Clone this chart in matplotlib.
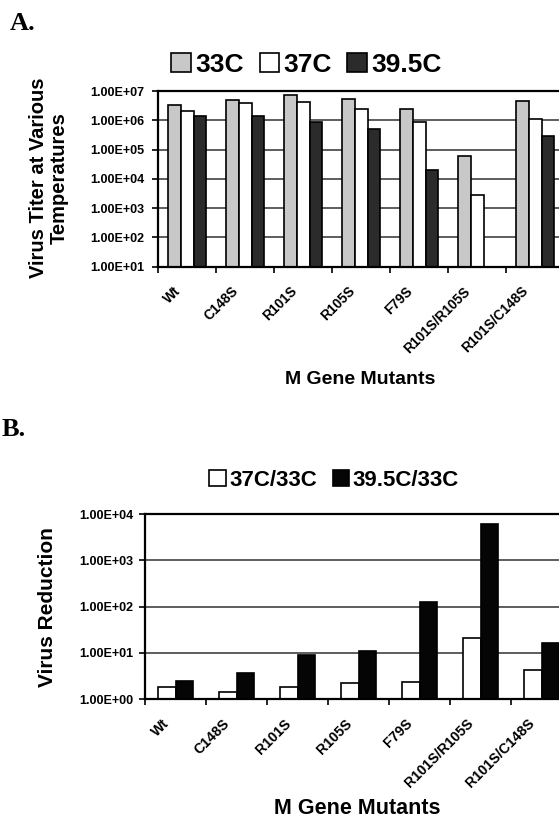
import numpy as np
import matplotlib
matplotlib.use('Agg')
import matplotlib.pyplot as plt
from matplotlib.patches import Patch
from matplotlib.ticker import FuncFormatter, FixedLocator, NullLocator
from matplotlib.transforms import ScaledTranslation

plt.rcParams['font.family'] = ['Liberation Sans', 'DejaVu Sans']
plt.rcParams['font.weight'] = 'bold'

# datos
mutantes = ['Wt', 'C148S', 'R101S', 'R105S', 'F79S', 'R101S/R105S', 'R101S/C148S']
titulo_33 = [3.3e6, 4.9e6, 7.2e6, 5.4e6, 2.4e6, 6.0e4, 4.7e6]
titulo_37 = [2.0e6, 3.8e6, 4.1e6, 2.4e6, 8.9e5, 2.9e3, 1.1e6]
titulo_395 = [1.4e6, 1.4e6, 8.9e5, 5.0e5, 2.0e4, 1.0e1, 2.9e5]
red_37 = [1.79, 1.44, 1.8, 2.2, 2.35, 20.5, 4.2]
red_395 = [2.45, 3.6, 8.8, 10.9, 126, 6100, 16]

W, H = 559, 819
fig = plt.figure(figsize=(W/100, H/100), dpi=100)

def px(x0, y0, x1, y1):
    # caja en pixeles -> fraccion de figura
    return [x0/W, 1-y1/H, (x1-x0)/W, (y1-y0)/H]

def estilo(ax, ymin, ymax, tam_x, pad_y):
    n = len(mutantes)
    ax.set_yscale('log')
    ax.set_ylim(ymin, ymax)
    ax.set_xlim(-0.5, n-0.5)
    ax.yaxis.set_major_locator(FixedLocator([10.0**k for k in range(int(np.log10(ymin)), int(np.log10(ymax))+1)]))
    ax.yaxis.set_minor_locator(NullLocator())
    ax.yaxis.set_major_formatter(FuncFormatter(lambda v, p: '%.2E' % v))
    ax.yaxis.grid(True, color='#505050', lw=1.3)
    ax.set_axisbelow(True)
    ax.spines['right'].set_visible(False)
    for s in ['left', 'bottom', 'top']:
        ax.spines[s].set_linewidth(1.6)
        ax.spines[s].set_color('black')
    ax.tick_params(axis='y', direction='out', length=4, width=1.2, pad=pad_y, labelsize=9)
    ax.set_xticks(np.arange(n))
    ax.set_xticks(np.arange(n+1)-0.5, minor=True)
    ax.tick_params(axis='x', which='major', length=0, pad=12.5)
    ax.tick_params(axis='x', which='minor', direction='out', length=4, width=1.2)
    ax.set_xticklabels(mutantes, rotation=45, ha='right', fontsize=tam_x, fontweight='bold')
    for lab in ax.get_xticklabels():
        lab.set_transform(lab.get_transform() + ScaledTranslation(-4/100, 0, fig.dpi_scale_trans))
    for lab in ax.get_yticklabels():
        lab.set_fontweight('bold')

# A
x = np.arange(len(mutantes))
axA = fig.add_axes(px(158.3, 91, 564.3, 266.7))
w = 0.22
ymin = 10
axA.bar(x-w, np.array(titulo_33)-ymin, w, bottom=ymin, color='#c8c8c8', edgecolor='black', lw=1.2)
axA.bar(x, np.array(titulo_37)-ymin, w, bottom=ymin, color='white', edgecolor='black', lw=1.2)
axA.bar(x+w, np.array(titulo_395)-ymin, w, bottom=ymin, color='#2b2b2b', edgecolor='black', lw=1.2)
estilo(axA, 1e1, 1e7, 9.8, 6)

fig.text(10/W, 1-23/H, 'A.', family='Liberation Serif', fontweight='bold', fontsize=19, va='center', ha='left')
fig.text(49/W, 1-178/H, 'Virus Titer at Various\nTemperatures', rotation=90, ha='center', va='center',
         fontsize=14.5, fontweight='bold', linespacing=1.15)
fig.text(360/W, 1-380/H, 'M Gene Mutants', ha='center', va='center', fontsize=14, fontweight='bold')
hA = [Patch(facecolor='#c8c8c8', edgecolor='black', lw=1.2),
      Patch(facecolor='white', edgecolor='black', lw=1.2),
      Patch(facecolor='#2b2b2b', edgecolor='black', lw=1.2)]
fig.legend(hA, ['33C', '37C', '39.5C'], ncol=3, frameon=False, loc='center',
           bbox_to_anchor=(306.5/W, 1-64.5/H), prop={'weight': 'bold', 'size': 19},
           handlelength=0.75, handleheight=0.75, handletextpad=0.15, columnspacing=0.6)

# B
axB = fig.add_axes(px(145, 514.3, 572, 699))
wb = 0.29
axB.bar(x-wb/2, np.array(red_37)-1, wb, bottom=1, color='white', edgecolor='black', lw=1.2)
axB.bar(x+wb/2, np.array(red_395)-1, wb, bottom=1, color='#050505', edgecolor='black', lw=1.2)
estilo(axB, 1e0, 1e4, 10.2, 4.6)

fig.text(2/W, 1-430/H, 'B.', family='Liberation Serif', fontweight='bold', fontsize=19, va='center', ha='left')
fig.text(47.8/W, 1-606.7/H, 'Virus Reduction', rotation=90, ha='center', va='center',
         fontsize=15, fontweight='bold')
fig.text(357.5/W, 1-809/H, 'M Gene Mutants', ha='center', va='center', fontsize=15.5, fontweight='bold')
hB = [Patch(facecolor='white', edgecolor='black', lw=1.2),
      Patch(facecolor='#050505', edgecolor='black', lw=1.2)]
fig.legend(hB, ['37C/33C', '39.5C/33C'], ncol=2, frameon=False, loc='center',
           bbox_to_anchor=(334/W, 1-480/H), prop={'weight': 'bold', 'size': 16},
           handlelength=0.75, handleheight=0.75, handletextpad=0.15, columnspacing=0.7)

fig.savefig('out.png', dpi=100)
